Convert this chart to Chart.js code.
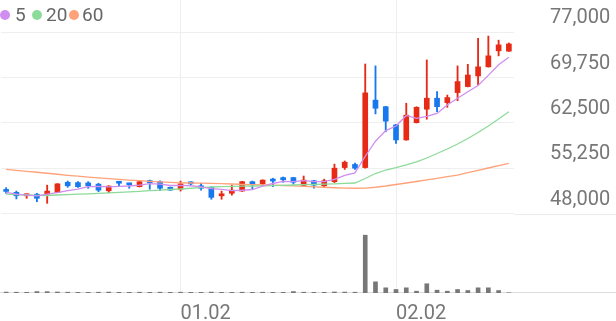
<!DOCTYPE html>
<html><head><meta charset="utf-8">
<script src="https://cdn.jsdelivr.net/npm/chart.js@4.4.0/dist/chart.umd.min.js"></script>
<style>
html,body{margin:0;padding:0;background:#fff;}
#wrap{position:relative;width:616px;height:321px;}
#legend{position:absolute;left:0;top:0;width:120px;height:30px;font:19px Roboto,sans-serif;color:#666;}
#legend .dot{position:absolute;top:10px;width:10px;height:10px;border-radius:50%;}
#legend .txt{position:absolute;top:3px;line-height:23px;}
</style></head>
<body><div id="wrap"><canvas id="c" width="616" height="321"></canvas><div id="legend"></div></div>
<script>
const dates = ['12.07','12.08','12.09','12.12','12.13','12.14','12.15','12.16','12.19','12.20','12.21','12.22','12.23','12.26','12.27','12.28','12.29',
  '01.02','01.03','01.04','01.05','01.06','01.09','01.10','01.11','01.12','01.13','01.16','01.17','01.18','01.19','01.20','01.24','01.25','01.26','01.27','01.30','01.31',
  '02.02','02.03','02.06','02.07','02.08','02.09','02.10','02.13','02.14','02.15','02.16','02.17'];
const shownDates = ['01.02', '02.02'];
const openP  = [51900,51450,50900,51150,51150,51450,53050,53000,52950,52750,51700,53150,52900,52350,53300,53150,52250,51950,53050,52500,52250,50900,51300,51650,53150,52800,53550,53800,53800,52550,53300,52500,53150,55400,55900,55400,66150,65100,62200,59800,62550,64700,66450,65750,67350,68300,70000,71450,74000,73950];
const highP  = [52200,51650,51200,51300,52600,52850,53250,53150,53150,52900,52500,53150,52900,53200,53400,53300,52300,53250,53150,52900,52350,51650,52600,53200,53250,53450,53700,53900,53850,54050,53350,53550,55950,56450,56100,71900,71600,65150,62300,65650,65100,72550,67500,66950,71600,71850,76000,76350,75700,75250];
const lowP   = [51300,50400,50500,49950,49700,51400,52250,52250,52100,51550,51400,52450,52100,52300,51950,51700,51750,51650,52600,51800,50350,50350,51000,51600,51950,52500,52350,53050,52750,52450,52100,52250,53000,55100,55100,55300,63950,61100,59250,59750,62500,63100,64300,65000,66050,68250,68550,71400,73200,73900];
const closeP = [51600,50900,51200,50500,51650,52800,52500,52350,52500,51800,52450,52900,52650,53150,53000,52100,51800,52800,52800,52100,50650,51200,51800,53150,52700,53400,53250,53450,53050,53400,52600,53300,55300,56250,55300,67300,64850,62800,59800,63750,65000,66450,65100,66550,69100,70150,71450,73200,74950,75100];
const volume = [80000,70000,60000,130000,120000,90000,70000,60000,60000,70000,80000,60000,60000,70000,60000,70000,60000,70000,60000,60000,80000,60000,60000,70000,60000,70000,60000,60000,130000,70000,60000,60000,90000,80000,70000,5130000,990000,460000,310000,460000,160000,820000,250000,160000,310000,220000,460000,460000,220000,20000];
const ma5  = [51450,51150,51000,50900,51170,51410,51730,51960,52360,52390,52320,52400,52460,52590,52830,52760,52540,52570,52500,52320,52030,51910,51710,51780,51900,52450,52860,53190,53170,53310,53150,53160,53530,54170,54550,57200,59600,61300,62010,63700,63240,63560,64020,65370,66440,67470,68470,70090,71770,72970];
const ma20 = [51150,51080,51030,50980,50950,51030,51090,51150,51220,51300,51380,51460,51540,51620,51710,51810,51900,51980,52100,52210,52300,52350,52400,52430,52460,52490,52530,52570,52620,52670,52700,52750,52810,52880,52940,53660,54450,55010,55380,55810,56290,56920,57640,58360,59150,60030,60990,62020,63140,64300];
const ma60 = [55120,54960,54800,54650,54490,54330,54170,54020,53880,53740,53630,53510,53400,53310,53210,53130,53050,52970,52940,52910,52880,52830,52780,52730,52690,52640,52590,52540,52480,52410,52330,52260,52180,52130,52100,52110,52260,52460,52700,52940,53180,53420,53690,53940,54210,54580,54960,55330,55700,56080];
const priceTicks = [48000, 55250, 62500, 69750, 77000];
const maNames = ['5', '20', '60'];

const RED = '#e62a16', BLUE = '#1878ee', VOL = '#777777';
const maColors = ['#d08ef0', '#8cdb9a', '#ffa27a'];

const candleColors = openP.map((o, i) => closeP[i] >= o ? RED : BLUE);
const bodies = openP.map((o, i) => [o, closeP[i]]);
const wicks = lowP.map((l, i) => [l, highP[i]]);

const lg = document.getElementById('legend');
const dotLeft = [0, 32, 69], txtLeft = [15, 46, 82];
maNames.forEach((n, i) => {
  const d = document.createElement('span'); d.className = 'dot'; d.style.background = maColors[i]; d.style.left = dotLeft[i] + 'px';
  const t = document.createElement('span'); t.className = 'txt'; t.textContent = n; t.style.left = txtLeft[i] + 'px';
  lg.appendChild(d); lg.appendChild(t);
});

const panelLines = {
  id: 'panelLines',
  beforeDatasetsDraw(chart) {
    const { ctx, chartArea, scales } = chart;
    ctx.save();
    ctx.lineWidth = 1;
    ctx.strokeStyle = '#ececec';
    const py = Math.round(scales.y.getPixelForValue(priceTicks[0])) + 0.5;
    ctx.beginPath(); ctx.moveTo(chartArea.right, py); ctx.lineTo(chart.width, py); ctx.stroke();
    ctx.strokeStyle = '#dcdcdc';
    const by = Math.round(scales.x.top) - 0.5;
    ctx.beginPath(); ctx.moveTo(0, by); ctx.lineTo(chart.width, by); ctx.stroke();
    ctx.restore();
  }
};

const zeroPad = s => { s.paddingTop = 0; s.paddingBottom = 0; s.paddingLeft = 0; s.paddingRight = 0; };
const font = { family: 'Roboto', size: 20 };
new Chart(document.getElementById('c'), {
  type: 'bar',
  data: {
    labels: dates,
    datasets: [
      { type: 'line', label: maNames[0], data: ma5, borderColor: maColors[0], borderWidth: 1.3, pointRadius: 0, tension: 0, yAxisID: 'y', order: 0 },
      { type: 'line', label: maNames[1], data: ma20, borderColor: maColors[1], borderWidth: 1.3, pointRadius: 0, tension: 0, yAxisID: 'y', order: 0 },
      { type: 'line', label: maNames[2], data: ma60, borderColor: maColors[2], borderWidth: 1.3, pointRadius: 0, tension: 0, yAxisID: 'y', order: 0 },
      { label: 'body', data: bodies, backgroundColor: candleColors, barThickness: 5, minBarLength: 2, grouped: false, yAxisID: 'y', order: 1 },
      { label: 'wick', data: wicks, backgroundColor: candleColors, barThickness: 1.2, grouped: false, yAxisID: 'y', order: 2 },
      { label: 'vol', data: volume, backgroundColor: VOL, barThickness: 4, grouped: false, yAxisID: 'yVol', order: 3 }
    ]
  },
  options: {
    responsive: false, animation: false,
    layout: { padding: { left: 1, top: 0, right: 0, bottom: 0 } },
    plugins: { legend: { display: false }, tooltip: { enabled: false } },
    scales: {
      x: {
        offset: true,
        grid: { offset: false, color: '#eeeeee', drawTicks: false },
        border: { display: false },
        ticks: { autoSkip: false, maxRotation: 0, align: 'start', padding: 9, font, color: '#777' },
        afterBuildTicks: s => { s.ticks = s.ticks.filter(t => shownDates.includes(dates[t.value])); },
        afterFit: s => { s.height = 28; zeroPad(s); }
      },
      y: {
        position: 'right', min: 35410, max: 82100,
        grid: { color: '#efefef', drawTicks: false },
        border: { display: false },
        ticks: { padding: 36, labelOffset: -14, font, color: '#777', callback: v => v.toLocaleString('en-US') },
        afterBuildTicks: s => { s.ticks = priceTicks.map(v => ({ value: v })); },
        afterFit: s => { s.width = 102; zeroPad(s); }
      },
      yVol: { display: false, min: 0, max: 26000000 }
    }
  },
  plugins: [panelLines]
});
</script>
</body></html>
